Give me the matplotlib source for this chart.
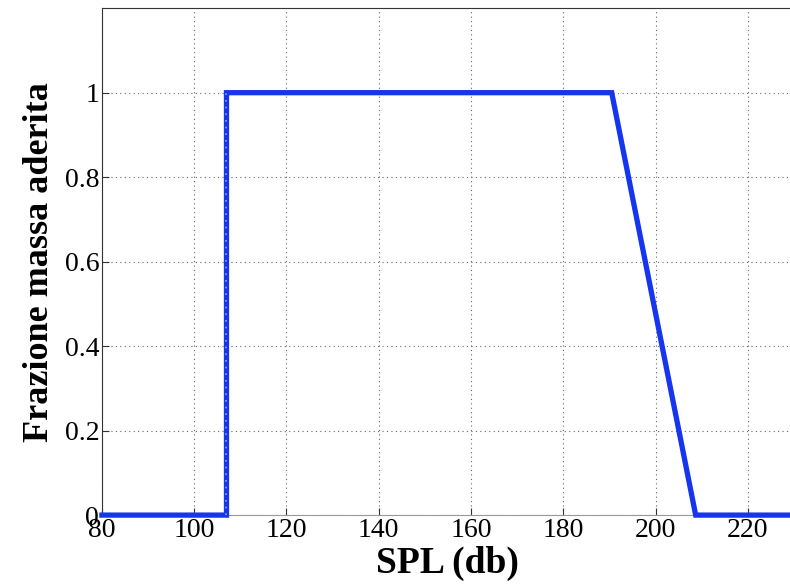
import matplotlib
matplotlib.use('Agg')
import matplotlib.pyplot as plt

# curve breakpoints (SPL in dB, adhered mass fraction)
spl = [80, 107, 107, 190.5, 208.7, 230]
frac = [0, 0, 1, 1, 0, 0]
xticks = [80, 100, 120, 140, 160, 180, 200, 220]
yticks = [0, 0.2, 0.4, 0.6, 0.8, 1]
ytick_labels = ['0', '0.2', '0.4', '0.6', '0.8', '1']

plt.rcParams['font.family'] = ['Liberation Serif', 'DejaVu Serif']

fig = plt.figure(figsize=(7.9, 5.86), dpi=100)
ax = fig.add_axes([0.129, 0.121, 0.876, 0.865])

ax.plot(spl, frac, color='#1535ee', lw=3.8, solid_joinstyle='miter', clip_on=False, zorder=3)
# light dotted pattern seen on the vertical step
ax.plot(spl[1:3], frac[1:3], color='#8fa0ff', lw=1.2, ls=(0, (1, 3)), zorder=4)

ax.set_xlim(80, 230)
ax.set_ylim(0, 1.2)
ax.set_xticks(xticks)
ax.set_yticks(yticks)
ax.set_yticklabels(ytick_labels)
ax.tick_params(direction='in', length=5, labelsize=20, pad=2, color='#333333')
ax.grid(True, color='#666666', ls=(0, (1, 3)), lw=0.8)
for s in ['left', 'top']:
    ax.spines[s].set_color('#333333')
ax.spines['bottom'].set_color('#999999')
ax.spines['right'].set_visible(False)

ax.set_xlabel('SPL (db)', fontsize=27, fontweight='bold', labelpad=2)
ax.set_ylabel('Frazione massa aderita', fontsize=26, fontweight='bold', labelpad=6)

fig.savefig('out.png', dpi=100)
